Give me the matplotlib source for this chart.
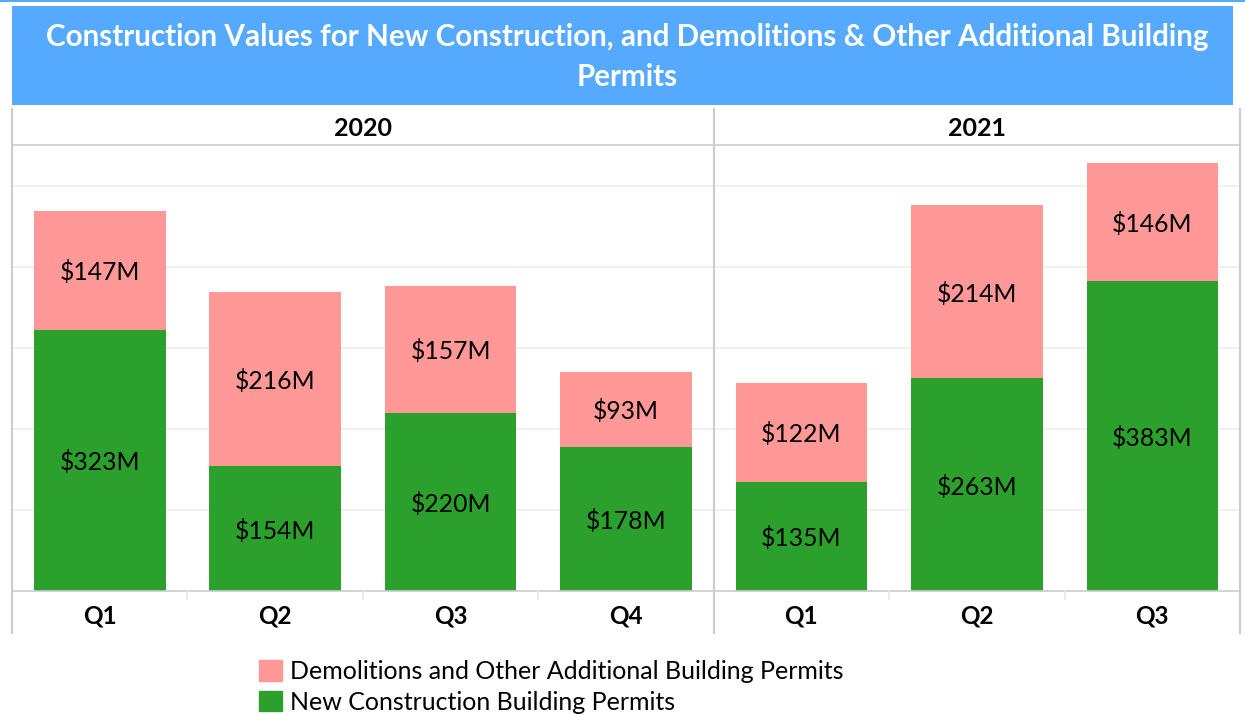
import matplotlib
matplotlib.use("Agg")
import matplotlib.pyplot as plt
from matplotlib.patches import Rectangle
from matplotlib.lines import Line2D
import matplotlib.transforms as mtransforms

plt.rcParams['font.family'] = ['Lato', 'DejaVu Sans']

title = "Construction Values for New Construction, and Demolitions & Other Additional Building\nPermits"
years = ["2020", "2021"]
year_counts = [4, 3]
quarters = ["Q1", "Q2", "Q3", "Q4", "Q1", "Q2", "Q3"]
new_construction = [323, 154, 220, 178, 135, 263, 383]
demolitions = [147, 216, 157, 93, 122, 214, 146]
series_names = ["Demolitions and Other Additional Building Permits",
                "New Construction Building Permits"]
green = "#2ca02c"
pink = "#ff9896"
banner = "#55aaff"
W, H = 1245, 714

fig = plt.figure(figsize=(W / 100, H / 100), dpi=100)
fig.patch.set_facecolor("white")

def fx(px):
    return px / W

def fy(py):
    return 1 - py / H

# top thin line and banner
fig.add_artist(Rectangle((0, fy(2)), 1, 2 / H, transform=fig.transFigure,
                         facecolor=banner, edgecolor="none"))
fig.add_artist(Rectangle((fx(12), fy(105)), fx(1233) - fx(12), 99 / H,
                         transform=fig.transFigure, facecolor=banner, edgecolor="none"))
fig.text(fx(627), fy(57), title, ha="center", va="center", color="white",
         fontsize=21.3, fontweight="bold", linespacing=1.48)

left, right, top, bottom = 12, 1240, 145, 591
ax = fig.add_axes([fx(left), fy(bottom), fx(right) - fx(left), fy(top) - fy(bottom)])
x = list(range(len(quarters)))
ax.bar(x, new_construction, width=0.75, color=green, zorder=2)
ax.bar(x, demolitions, width=0.75, bottom=new_construction, color=pink, zorder=2)
ax.set_xlim(-0.5, len(quarters) - 0.5)
ax.set_ylim(0, 551)
ax.set_yticks([100, 200, 300, 400, 500])
ax.grid(axis="y", color="#eeeeee", linewidth=1.2, zorder=0)
ax.tick_params(left=False, labelleft=False, bottom=False, labelbottom=False)
for s in ["top", "right", "left"]:
    ax.spines[s].set_visible(False)
ax.spines["bottom"].set_color("#cccccc")
ax.spines["bottom"].set_linewidth(1.2)

lbl_off = mtransforms.offset_copy(ax.transData, fig=fig, x=0, y=-2, units="dots")
for xi, n, d in zip(x, new_construction, demolitions):
    ax.text(xi, n / 2, f"${n}M", ha="center", va="center", fontsize=17.8,
            color="black", zorder=3, transform=lbl_off)
    ax.text(xi, n + d / 2, f"${d}M", ha="center", va="center", fontsize=17.8,
            color="black", zorder=3, transform=lbl_off)

# frame lines
gc = "#cccccc"
bt = mtransforms.blended_transform_factory(ax.transData, fig.transFigure)
fig.add_artist(Line2D([fx(12), fx(12)], [fy(633), fy(109)], transform=fig.transFigure, color=gc, lw=1.5))
fig.add_artist(Line2D([fx(1240), fx(1240)], [fy(633), fy(109)], transform=fig.transFigure, color=gc, lw=1.5))
fig.add_artist(Line2D([fx(12), fx(1240)], [fy(145), fy(145)], transform=fig.transFigure, color=gc, lw=1.2))
split = year_counts[0] - 0.5
fig.add_artist(Line2D([split, split], [fy(633), fy(109)], transform=bt, color=gc, lw=1.5))
for b in [0.5, 1.5, 2.5, 4.5, 5.5]:
    fig.add_artist(Line2D([b, b], [fy(591), fy(599)], transform=bt, color="#e6e6e6", lw=1.2))

start = 0
for yr, c in zip(years, year_counts):
    center = start + (c - 1) / 2
    fig.text(center, fy(128), yr, transform=bt, ha="center", va="center",
             fontsize=18, fontweight="bold", color="black")
    start += c
for xi, q in zip(x, quarters):
    fig.text(xi, fy(616), q, transform=bt, ha="center", va="center",
             fontsize=17.5, fontweight="bold", color="black")

handles = [Rectangle((0, 0), 1, 1, color=pink), Rectangle((0, 0), 1, 1, color=green)]
fig.legend(handles, series_names, loc="upper left", bbox_to_anchor=(fx(249), fy(650)),
           frameon=False, fontsize=18, handlelength=0.9, handleheight=0.9,
           handletextpad=0.35, labelspacing=0.3, borderaxespad=0)

fig.savefig("out.png", dpi=100)
